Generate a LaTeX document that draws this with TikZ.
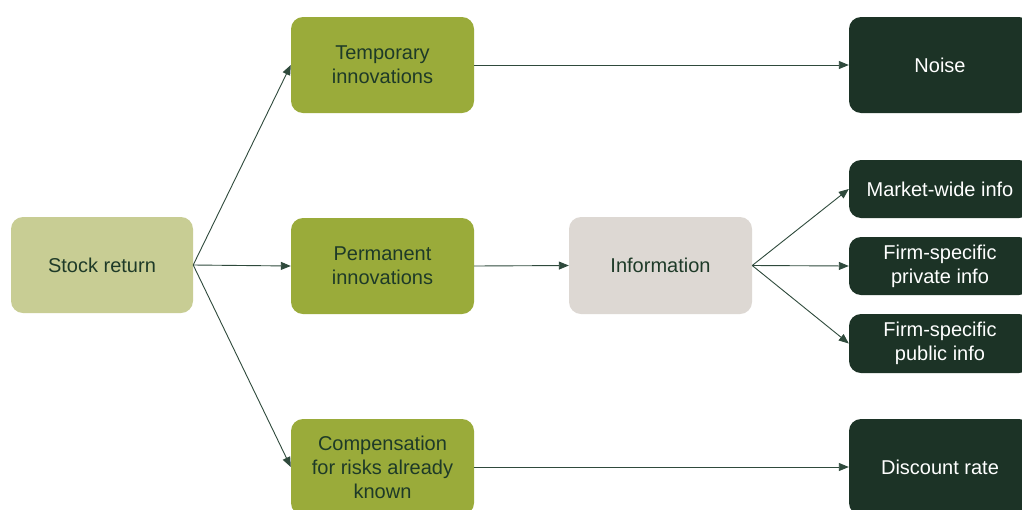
\documentclass[tikz,border=0pt]{standalone}
\usepackage{fontspec}
\setmainfont{Liberation Sans}
\usetikzlibrary{arrows.meta}
\definecolor{srfill}{HTML}{C8CD94}
\definecolor{olive}{HTML}{9AAB3A}
\definecolor{infofill}{HTML}{DDD8D3}
\definecolor{darkbox}{HTML}{1C3326}
\definecolor{txtdark}{HTML}{1E3A28}
\definecolor{arrowcol}{HTML}{2F4A3C}
\tikzset{
  box/.style={rounded corners=12pt, inner sep=2pt, align=center,
    font=\fontsize{20}{24}\selectfont},
  srbox/.style={box, fill=srfill, text=txtdark, minimum width=182pt, minimum height=96pt},
  olbox/.style={box, fill=olive, text=txtdark, minimum width=183pt, minimum height=96pt},
  infobox/.style={box, fill=infofill, text=txtdark, minimum width=183pt, minimum height=97pt},
  dkbox/.style={box, fill=darkbox, text=white, minimum width=182pt, minimum height=96pt},
  dksmall/.style={box, fill=darkbox, text=white, minimum width=182pt, minimum height=58pt},
  conn/.style={draw=arrowcol, line width=0.9pt, -{Triangle[length=10pt,width=8pt]}}
}
\begin{document}
\begin{tikzpicture}[x=1pt,y=-1pt]
\useasboundingbox (0,0) rectangle (1022,509);
\clip (0,0) rectangle (1022,509);
\fill[white] (0,0) rectangle (1022,509);
\node[srbox] (sr) at (102,265) {Stock return};
\node[olbox] (tmp) at (382.5,65) {Temporary\\innovations};
\node[olbox] (perm) at (382.5,266) {Permanent\\innovations};
\node[olbox] (comp) at (382.5,467) {Compensation\\for risks already\\known};
\node[infobox] (info) at (660.5,265.5) {Information};
\node[dkbox] (noise) at (940,65) {Noise};
\node[dksmall] (mkt) at (940,189) {Market-wide info};
\node[dksmall] (priv) at (940,266) {Firm-specific\\private info};
\node[dksmall, minimum height=59pt] (pub) at (940,343.5) {Firm-specific\\public info};
\node[dkbox] (disc) at (940,467) {Discount rate};
\draw[conn] (sr.east) -- (tmp.west);
\draw[conn] (sr.east) -- (perm.west);
\draw[conn] (sr.east) -- (comp.west);
\draw[conn] (tmp.east) -- (noise.west);
\draw[conn] (perm.east) -- (info.west);
\draw[conn] (comp.east) -- (disc.west);
\draw[conn] (info.east) -- (mkt.west);
\draw[conn] (info.east) -- (priv.west);
\draw[conn] (info.east) -- (pub.west);
\end{tikzpicture}
\end{document}
